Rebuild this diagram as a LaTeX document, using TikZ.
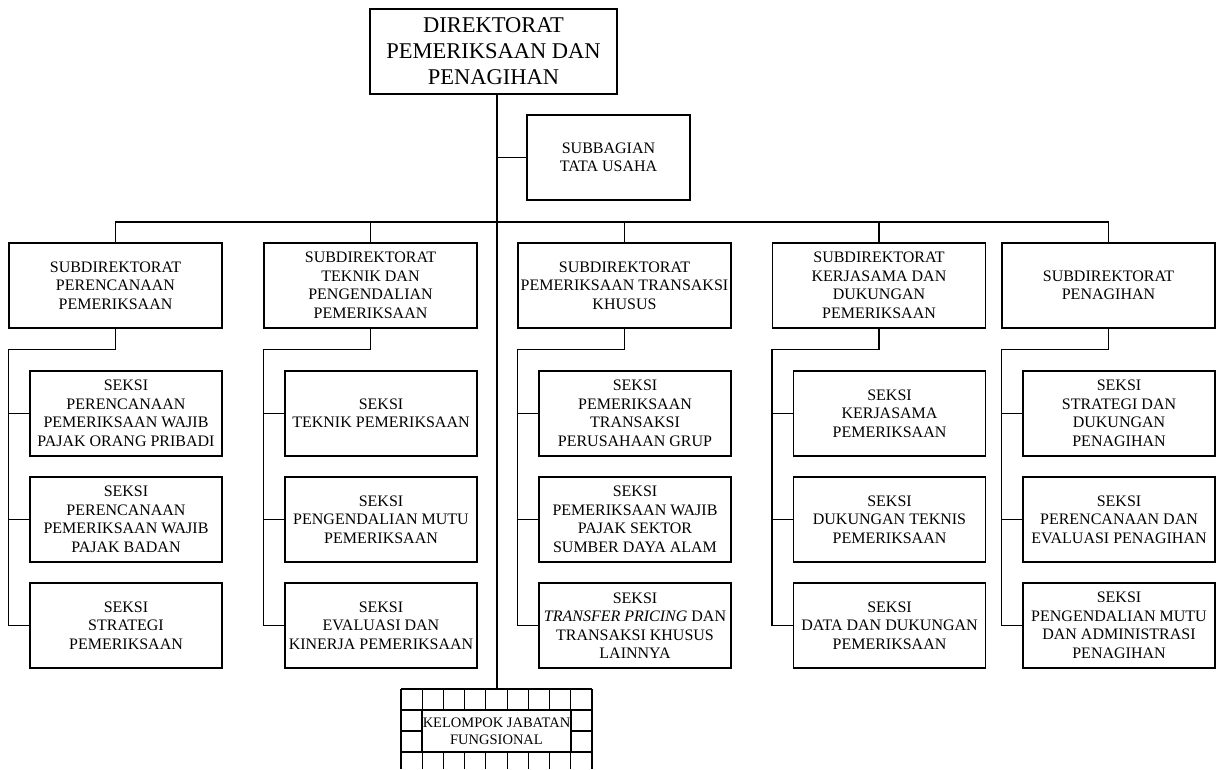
\documentclass[tikz,border=0pt]{standalone}
\usepackage{fontspec}
\setmainfont{Liberation Serif}
\usepackage{tikz}
\tikzset{
    dirbox/.style ={
        shape=rectangle,
        draw=black,
        line width=1.2pt,
        inner sep=2pt,
        align=center,
        minimum width=247pt,
        minimum height=85pt,
        font=\fontsize{22.5}{26}\selectfont
    },
    tubox/.style ={
        shape=rectangle,
        draw=black,
        line width=1.2pt,
        inner sep=2pt,
        align=center,
        minimum width=163pt,
        minimum height=85pt,
        font=\fontsize{16}{18.5}\selectfont
    },
    subbox/.style ={
        shape=rectangle,
        draw=black,
        line width=1.2pt,
        inner ysep=2pt,
        inner xsep=0pt,
        align=center,
        minimum width=213pt,
        minimum height=85pt,
        font=\fontsize{16}{18.5}\selectfont
    },
    seksibox/.style ={
        shape=rectangle,
        draw=black,
        line width=1.2pt,
        inner ysep=2pt,
        inner xsep=0pt,
        align=center,
        minimum width=192pt,
        minimum height=85pt,
        font=\fontsize{16}{18.5}\selectfont
    },
    kjfbox/.style ={
        shape=rectangle,
        draw=black,
        fill=white,
        line width=1.2pt,
        inner sep=0pt,
        align=center,
        minimum width=149pt,
        minimum height=42pt,
        font=\fontsize{14.5}{17}\selectfont
    }
}

\begin{document}
\begin{tikzpicture}[x=1pt,y=-1pt,line width=1.2pt]
    \useasboundingbox (0,0) rectangle (1216,769);

    \node[dirbox] (dir) at(493.5,51.5) {DIREKTORAT\\PEMERIKSAAN DAN\\PENAGIHAN};
    \node[tubox] (tu) at(608.5,157.5) {SUBBAGIAN\\TATA USAHA};

    \node[subbox] (sd1) at(115.5,285.5) {SUBDIREKTORAT\\PERENCANAAN\\PEMERIKSAAN};
    \node[subbox] (sd2) at(370.5,285.5) {SUBDIREKTORAT\\TEKNIK DAN\\PENGENDALIAN\\PEMERIKSAAN};
    \node[subbox] (sd3) at(624.5,285.5) {SUBDIREKTORAT\\PEMERIKSAAN TRANSAKSI\\KHUSUS};
    \node[subbox] (sd4) at(879,285.5) {SUBDIREKTORAT\\KERJASAMA DAN\\DUKUNGAN\\PEMERIKSAAN};
    \node[subbox] (sd5) at(1108.5,285.5) {SUBDIREKTORAT\\PENAGIHAN};

    % seksi subdit perencanaan
    \node[seksibox] (s11) at(126,413.5) {SEKSI\\PERENCANAAN\\PEMERIKSAAN WAJIB\\PAJAK ORANG PRIBADI};
    \node[seksibox] (s12) at(126,519.5) {SEKSI\\PERENCANAAN\\PEMERIKSAAN WAJIB\\PAJAK BADAN};
    \node[seksibox] (s13) at(126,625.5) {SEKSI\\STRATEGI\\PEMERIKSAAN};
    % seksi subdit teknik
    \node[seksibox] (s21) at(381,413.5) {SEKSI\\TEKNIK PEMERIKSAAN};
    \node[seksibox] (s22) at(381,519.5) {SEKSI\\PENGENDALIAN MUTU\\PEMERIKSAAN};
    \node[seksibox] (s23) at(381,625.5) {SEKSI\\EVALUASI DAN\\KINERJA PEMERIKSAAN};
    % seksi subdit transaksi khusus
    \node[seksibox] (s31) at(635,413.5) {SEKSI\\PEMERIKSAAN\\TRANSAKSI\\PERUSAHAAN GRUP};
    \node[seksibox] (s32) at(635,519.5) {SEKSI\\PEMERIKSAAN WAJIB\\PAJAK SEKTOR\\SUMBER DAYA ALAM};
    \node[seksibox] (s33) at(635,625.5) {SEKSI\\\textit{TRANSFER PRICING} DAN\\TRANSAKSI KHUSUS\\LAINNYA};
    % seksi subdit kerjasama
    \node[seksibox] (s41) at(889.5,413.5) {SEKSI\\KERJASAMA\\PEMERIKSAAN};
    \node[seksibox] (s42) at(889.5,519.5) {SEKSI\\DUKUNGAN TEKNIS\\PEMERIKSAAN};
    \node[seksibox] (s43) at(889.5,625.5) {SEKSI\\DATA DAN DUKUNGAN\\PEMERIKSAAN};
    % seksi subdit penagihan
    \node[seksibox] (s51) at(1119,413.5) {SEKSI\\STRATEGI DAN\\DUKUNGAN\\PENAGIHAN};
    \node[seksibox] (s52) at(1119,519.5) {SEKSI\\PERENCANAAN DAN\\EVALUASI PENAGIHAN};
    \node[seksibox] (s53) at(1119,625.5) {SEKSI\\PENGENDALIAN MUTU\\DAN ADMINISTRASI\\PENAGIHAN};

    % kelompok jabatan fungsional
    \foreach \i in {0,...,9}
        \draw ({401+21.22*\i},689) -- ({401+21.22*\i},769);
    \foreach \gy in {689,710,731,752}
        \draw (401,\gy) -- (592.2,\gy);
    \node[kjfbox] (kjf) at(496.5,731) {KELOMPOK JABATAN\\FUNGSIONAL};
    \coordinate (kjftop) at(497,689);
    \coordinate (bus) at(497,222);

    \draw (dir.south -| kjftop) -- (kjftop);
    \draw (kjftop |- tu.west) -- (tu.west);
    \draw (sd1.north) |- (bus) -| (sd5.north);
    \draw (sd2.north) -- (sd2.north |- bus);
    \draw (sd3.north) -- (sd3.north |- bus);
    \draw (sd4.north) -- (sd4.north |- bus);

    \draw (sd1.south) -- ++(0,21) -| (sd1.west |- s13.west) -- (s13.west);
    \draw (sd1.west |- s11.west) -- (s11.west);
    \draw (sd1.west |- s12.west) -- (s12.west);
    \draw (sd2.south) -- ++(0,21) -| (sd2.west |- s23.west) -- (s23.west);
    \draw (sd2.west |- s21.west) -- (s21.west);
    \draw (sd2.west |- s22.west) -- (s22.west);
    \draw (sd3.south) -- ++(0,21) -| (sd3.west |- s33.west) -- (s33.west);
    \draw (sd3.west |- s31.west) -- (s31.west);
    \draw (sd3.west |- s32.west) -- (s32.west);
    \draw (sd4.south) -- ++(0,21) -| (sd4.west |- s43.west) -- (s43.west);
    \draw (sd4.west |- s41.west) -- (s41.west);
    \draw (sd4.west |- s42.west) -- (s42.west);
    \draw (sd5.south) -- ++(0,21) -| (sd5.west |- s53.west) -- (s53.west);
    \draw (sd5.west |- s51.west) -- (s51.west);
    \draw (sd5.west |- s52.west) -- (s52.west);
\end{tikzpicture}
\end{document}
